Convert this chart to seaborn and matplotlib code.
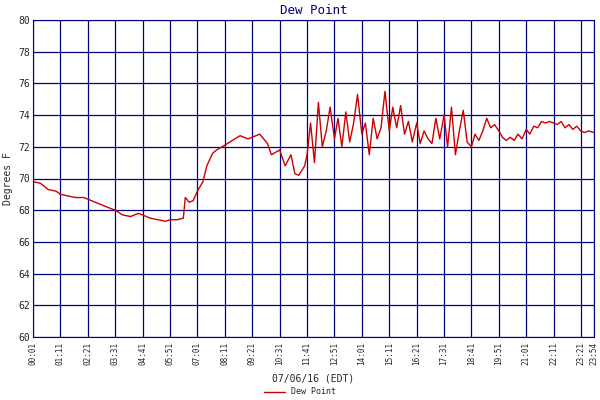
import matplotlib
matplotlib.use("Agg")
import matplotlib.pyplot as plt
import seaborn as sns
import pandas as pd

times = ["00:01","00:20","00:40","01:00","01:11","01:30","01:50","02:10","02:21","02:40","03:00","03:20","03:31","03:50","04:10","04:30","04:41","05:00","05:20","05:40","05:51","06:10","06:25","06:30","06:40","06:50","07:01","07:15","07:25","07:40","07:50","08:11","08:30","08:50","09:10","09:21","09:40","10:00","10:10","10:31","10:45","11:00","11:10","11:20","11:35","11:41","11:50","12:00","12:10","12:20","12:30","12:40","12:51","13:00","13:10","13:20","13:30","13:40","13:50","14:01","14:10","14:20","14:30","14:40","14:50","15:00","15:11","15:20","15:30","15:40","15:50","16:00","16:10","16:21","16:30","16:40","16:50","17:00","17:10","17:20","17:31","17:40","17:50","18:00","18:10","18:20","18:30","18:41","18:50","19:00","19:10","19:20","19:30","19:40","19:51","20:00","20:10","20:20","20:30","20:40","20:50","21:01","21:10","21:20","21:30","21:40","21:50","22:00","22:11","22:20","22:30","22:40","22:50","23:00","23:10","23:20","23:30","23:40","23:54"]
dew = [69.8,69.7,69.3,69.2,69.0,68.9,68.8,68.8,68.7,68.5,68.3,68.1,68.0,67.7,67.6,67.8,67.7,67.5,67.4,67.3,67.4,67.4,67.5,68.8,68.5,68.6,69.2,69.8,70.8,71.6,71.8,72.1,72.4,72.7,72.5,72.6,72.8,72.2,71.5,71.8,70.8,71.5,70.3,70.2,70.8,71.5,73.5,71.0,74.8,72.0,73.0,74.5,72.5,73.8,72.0,74.2,72.3,73.5,75.3,72.8,73.5,71.5,73.8,72.5,73.2,75.5,73.0,74.5,73.2,74.6,72.8,73.6,72.3,73.5,72.2,73.0,72.5,72.2,73.8,72.5,74.0,72.0,74.5,71.5,73.0,74.3,72.3,72.0,72.8,72.4,73.0,73.8,73.2,73.4,73.0,72.6,72.4,72.6,72.4,72.8,72.5,73.1,72.8,73.3,73.2,73.6,73.5,73.6,73.5,73.4,73.6,73.2,73.4,73.1,73.3,73.0,72.9,73.0,72.9]
tick_labels = ["00:01","01:11","02:21","03:31","04:41","05:51","07:01","08:11","09:21","10:31","11:41","12:51","14:01","15:11","16:21","17:31","18:41","19:51","21:01","22:11","23:21","23:54"]

def mins(t):
    h, m = t.split(":")
    return int(h) * 60 + int(m)

df = pd.DataFrame({"t": [mins(t) for t in times], "Dew Point": dew})

sns.set_style("white")
plt.rcParams['font.family'] = ['DejaVu Sans Mono']
fig = plt.figure(figsize=(6, 4), dpi=100)
ax = fig.add_axes([0.055, 0.1575, 0.935, 0.7925])
sns.lineplot(data=df, x="t", y="Dew Point", color="#cc0000", linewidth=1, ax=ax, label="Dew Point", legend=False)
ax.set_xlim(mins("00:01"), mins("23:54"))
ax.set_ylim(60, 80)
ax.set_yticks(range(60, 81, 2))
ax.set_xticks([mins(t) for t in tick_labels])
ax.set_xticklabels(tick_labels, rotation=90, fontsize=5.5)
ax.tick_params(axis="y", labelsize=7, length=0, pad=2)
ax.tick_params(axis="x", length=0)
ax.grid(True, color="#000080", linewidth=0.9)
for s in ax.spines.values():
    s.set_color("#000080")
ax.set_title("Dew Point", color="#000080", fontsize=9, pad=4)
ax.set_xlabel("07/06/16 (EDT)", fontsize=7, labelpad=6)
ax.set_ylabel("Degrees F", fontsize=7, labelpad=4)
fig.legend(loc="lower center", bbox_to_anchor=(0.5, -0.01), frameon=False, fontsize=6, handlelength=2.5)
fig.savefig("out.png", dpi=100)
